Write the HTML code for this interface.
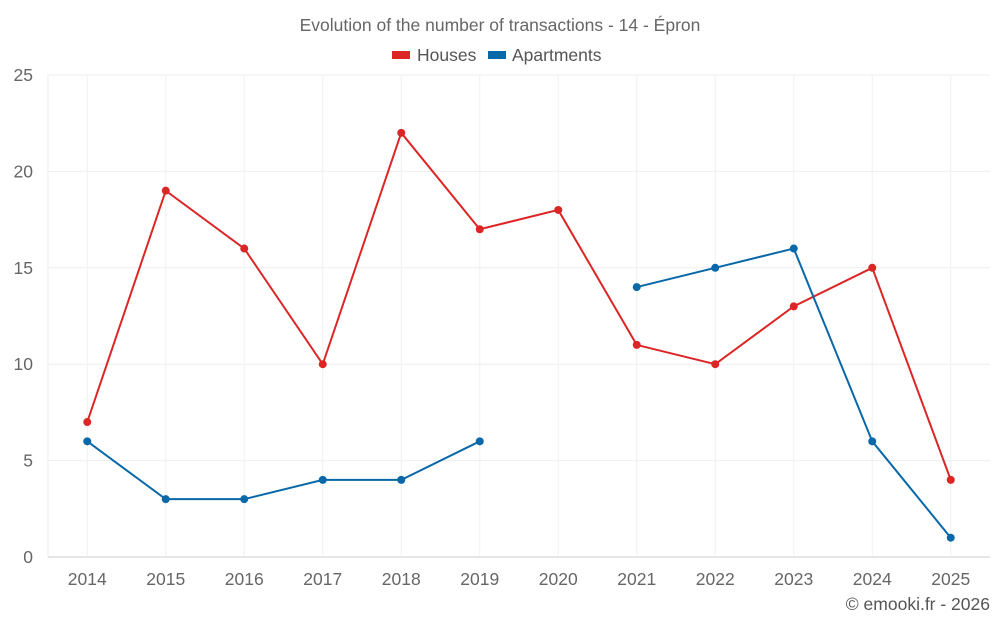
<!DOCTYPE html>
<html><head><meta charset="utf-8"><style>
body{margin:0;background:#fff;font-family:"Liberation Sans",sans-serif}
</style></head><body>
<svg id="c" width="1000" height="625" xmlns="http://www.w3.org/2000/svg" style="display:block;font-family:'Liberation Sans',sans-serif"></svg>
<script>
const categories=["2014","2015","2016","2017","2018","2019","2020","2021","2022","2023","2024","2025"];
const housesValues=[7,19,16,10,22,17,18,11,10,13,15,4];
const apartmentsValues=[6,3,3,4,4,6,null,14,15,16,6,1];
const yTicks=[0,5,10,15,20,25];
const svg=document.getElementById('c');
const NS='http://www.w3.org/2000/svg';
const L=48,R=990,T=75,B=557,yMax=25;
const band=(R-L)/categories.length;
const x=i=>L+band*(i+0.5);
const y=v=>B-(v/yMax)*(B-T);
function el(t,a,txt){const e=document.createElementNS(NS,t);for(const k in a)e.setAttribute(k,a[k]);if(txt!=null)e.textContent=txt;svg.appendChild(e);return e;}
let e;
e=el('text',{x:500,y:31,'text-anchor':'middle','font-size':17.5,fill:'#666'},'Evolution of the number of transactions - 14 - Épron');


yTicks.forEach(v=>{
 e=el('line',{x1:L,x2:R,y1:y(v),y2:y(v),stroke:v===0?'#ccc':'#eee','stroke-width':1});
 
 
 e=el('text',{x:33,y:y(v)+6,'text-anchor':'end','font-size':17.5,fill:'#666'},String(v));
 
 
});
categories.forEach((c,i)=>{
 e=el('line',{x1:x(i),x2:x(i),y1:T,y2:B,stroke:'#f0f0f0','stroke-width':1});
 
 
 e=el('text',{x:x(i),y:585,'text-anchor':'middle','font-size':17.5,fill:'#666'},c);
 
 
});
e=el('line',{x1:L,x2:L,y1:T,y2:B,stroke:'#eee'});


function series(vals,color,name){
 let d='',pen=false;
 vals.forEach((v,i)=>{if(v==null){pen=false;return;}d+=(pen?'L':'M')+x(i)+' '+y(v)+' ';pen=true;});
 e=el('path',{d:d,fill:'none',stroke:color,'stroke-width':2});
 
 
 vals.forEach((v,i)=>{if(v==null)return;
  e=el('circle',{cx:x(i),cy:y(v),r:4,fill:color});
  
  
 });
}
series(housesValues,'#dc2626','houses');
series(apartmentsValues,'#0868a8','apartments');
e=el('rect',{x:392,y:51,width:18,height:8,fill:'#dc2626'});


e=el('text',{x:417,y:61,'font-size':17.5,fill:'#555'},'Houses');


e=el('rect',{x:488,y:51,width:18,height:8,fill:'#0868a8'});


e=el('text',{x:512,y:61,'font-size':17.5,fill:'#555'},'Apartments');


e=el('text',{x:990,y:610,'text-anchor':'end','font-size':17.5,fill:'#555'},'© emooki.fr - 2026');


</script>
</body></html>
